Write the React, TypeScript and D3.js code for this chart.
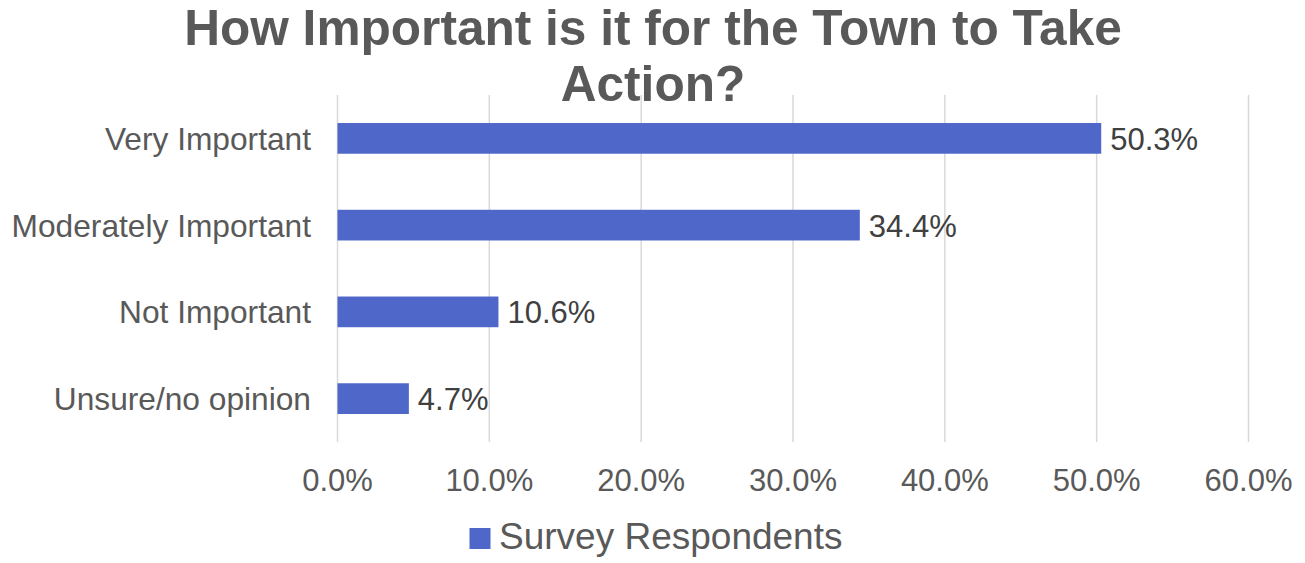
import React from "react";
import * as d3 from "d3";

const categories = ["Very Important", "Moderately Important", "Not Important", "Unsure/no opinion"];
const values = [50.3, 34.4, 10.6, 4.7];
const ticks = [0, 10, 20, 30, 40, 50, 60];
const seriesName = "Survey Respondents";
const titleLines = ["How Important is it for the Town to Take", "Action?"];

const W = 1305;
const H = 563;
const FONT = "'Liberation Sans', Arial, sans-serif";

export default function App() {
  const x = d3.scaleLinear().domain([0, 60]).range([337.5, 1248.5]);
  const y = d3.scaleBand<string>().domain(categories).range([95, 442]).paddingInner(0.646).paddingOuter(0.323);
  const fmt = (v: number) => v.toFixed(1) + "%";
  return (
    <svg width={W} height={H} style={{ position: "absolute", left: 0, top: 0, background: "#fff" }} fontFamily={FONT}>
      <rect x={0} y={0} width={W} height={H} fill="#fff" />
      {titleLines.map((t, i) => (
        <text key={i} x={653} y={45 + i * 56} textAnchor="middle" fontSize={49.6} fontWeight="bold" fill="#595959">
          {t}
        </text>
      ))}
      {ticks.map((t) => (
        <line key={t} x1={x(t)} x2={x(t)} y1={95} y2={442} stroke="#d9d9d9" strokeWidth={1.5} />
      ))}
      {categories.map((c, i) => (
        <g key={c}>
          <rect x={x(0)} y={y(c)!} width={x(values[i]) - x(0)} height={y.bandwidth()} fill="#4E67C8" />
          <text x={311} y={y(c)! + y.bandwidth() / 2 + 11.5} textAnchor="end" fontSize={31.7} fill="#595959">
            {c}
          </text>
          <text x={x(values[i]) + 9} y={y(c)! + y.bandwidth() / 2 + 11.5} fontSize={31} fill="#404040">
            {fmt(values[i])}
          </text>
        </g>
      ))}
      {ticks.map((t) => (
        <text key={t} x={x(t)} y={491} textAnchor="middle" fontSize={31} fill="#595959">
          {fmt(t)}
        </text>
      ))}
      <rect x={469.5} y={528} width={21} height={21} fill="#4E67C8" />
      <text x={499} y={549} fontSize={37} fill="#595959">
        {seriesName}
      </text>
    </svg>
  );
}
